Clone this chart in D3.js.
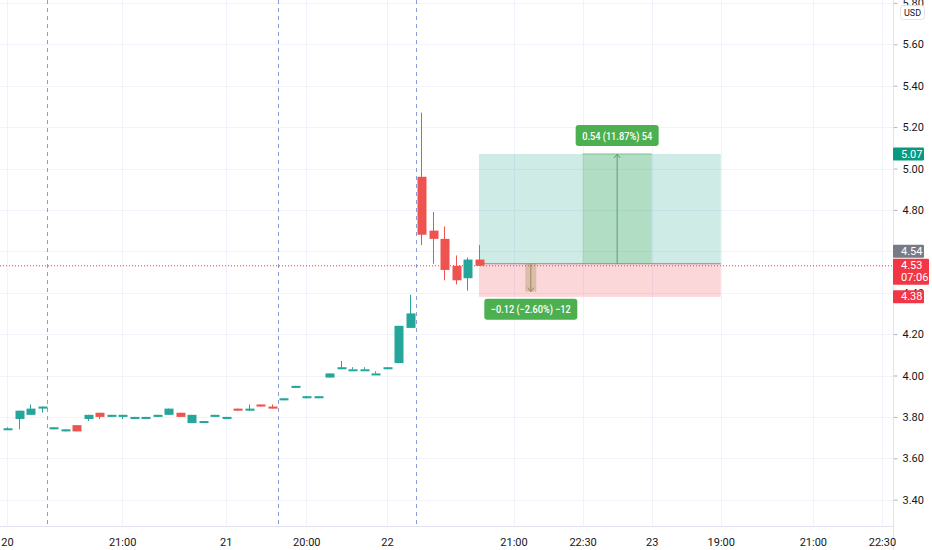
<!DOCTYPE html>
<html>
<head>
<meta charset="utf-8">
<script src="https://cdn.jsdelivr.net/npm/d3@7"></script>
<style>
  body { margin: 0; background: #fff; }
  text { font-family: Roboto, "Liberation Sans", sans-serif; }
</style>
</head>
<body>
<svg id="chart" width="932" height="550"></svg>
<script>
// candles (index = bar number)
var opens  = [3.74,3.79,3.81,3.84,3.74,3.73,3.76,3.79,3.82,3.80,3.80,3.79,3.79,3.80,3.81,3.82,3.77,3.77,3.80,3.79,3.84,3.83,3.86,3.85,
              3.88,3.94,3.89,3.89,3.99,4.03,4.03,4.03,4.01,4.03,4.06,4.23,4.96,4.70,4.66,4.53,4.47,4.56];
var highs  = [3.75,3.83,3.86,3.85,3.75,3.74,3.76,3.81,3.82,3.81,3.81,3.80,3.80,3.81,3.84,3.82,3.81,3.78,3.81,3.80,3.84,3.86,3.86,3.86,
              3.89,3.95,3.90,3.90,4.01,4.07,4.04,4.04,4.02,4.04,4.24,4.39,5.27,4.79,4.72,4.58,4.57,4.63];
var lows   = [3.74,3.74,3.81,3.82,3.74,3.73,3.73,3.78,3.79,3.80,3.79,3.79,3.79,3.80,3.81,3.80,3.77,3.77,3.80,3.79,3.83,3.83,3.85,3.84,
              3.88,3.94,3.89,3.89,3.99,4.03,4.03,4.03,4.01,4.03,4.06,4.23,4.63,4.54,4.46,4.44,4.41,4.53];
var closes = [3.745,3.83,3.84,3.85,3.75,3.74,3.73,3.81,3.80,3.81,3.81,3.80,3.80,3.81,3.84,3.80,3.81,3.78,3.81,3.80,3.83,3.84,3.85,3.84,
              3.89,3.95,3.90,3.90,4.01,4.04,4.03,4.03,4.01,4.04,4.24,4.30,4.68,4.66,4.51,4.46,4.56,4.53];

var priceTicks = [3.4,3.6,3.8,4.0,4.2,4.4,4.6,4.8,5.0,5.2,5.4,5.6,5.8];
var timeTicks  = [0,10,19,26,33,44,50,56,62,70,76];
var timeLabels = ["20","21:00","21","20:00","22","21:00","22:30","23","19:00","21:00","22:30"];
var sessionBreaks = [3.5, 23.5, 35.5];

// long position tool
var posStart = 41, posEnd = 62, posMidStart = 50, posMidEnd = 56, posArrow = 53, lossArrow = 45.5;
var entry = 4.54, target = 5.07, stop = 4.38, stopArrowEnd = 4.405;
var profitText = "0.54 (11.87%) 54";
var lossText = "\u22120.12 (\u22122.60%) \u221212";
var lastPrice = 4.53, countdown = "07:06";

var up = "#26a69a", down = "#ef5350";
var plotRight = 893, plotBottom = 526;

var svg = d3.select("#chart");
svg.append("rect").attr("width", 932).attr("height", 550).attr("fill", "#fff");

var x = d3.scaleLinear().domain([0, 41]).range([7, 479]);
var y = d3.scaleLinear().domain([5, 3.4]).range([168.5, 499.7]);

// grid
svg.append("g").selectAll("line").data(priceTicks).enter().append("line")
    .attr("x1", 0).attr("x2", plotRight)
    .attr("y1", d => Math.round(y(d)) + 0.5).attr("y2", d => Math.round(y(d)) + 0.5)
    .attr("stroke", "#f0f3fa");
svg.append("g").selectAll("line").data(timeTicks).enter().append("line")
    .attr("x1", d => Math.round(x(d)) + 0.5).attr("x2", d => Math.round(x(d)) + 0.5)
    .attr("y1", 0).attr("y2", plotBottom)
    .attr("stroke", "#f0f3fa");

// session breaks
svg.append("g").selectAll("line").data(sessionBreaks).enter().append("line")
    .attr("x1", d => Math.round(x(d)) + 0.5).attr("x2", d => Math.round(x(d)) + 0.5)
    .attr("y1", 0).attr("y2", plotBottom)
    .attr("stroke", "#8c9ad6").attr("stroke-dasharray", "4,4");

// position tool
var pos = svg.append("g");
pos.append("rect")
    .attr("x", x(posStart)).attr("width", x(posEnd) - x(posStart))
    .attr("y", y(target)).attr("height", y(entry) - y(target))
    .attr("fill", "rgba(8,153,129,0.2)");
pos.append("rect")
    .attr("x", x(posStart)).attr("width", x(posEnd) - x(posStart))
    .attr("y", y(entry)).attr("height", y(stop) - y(entry))
    .attr("fill", "rgba(242,54,69,0.2)");
pos.append("rect")
    .attr("x", x(posMidStart)).attr("width", x(posMidEnd) - x(posMidStart))
    .attr("y", y(target)).attr("height", y(entry) - y(target))
    .attr("fill", "rgba(76,175,80,0.22)");
pos.append("line")
    .attr("x1", x(posMidStart)).attr("x2", x(posMidEnd))
    .attr("y1", y(target)).attr("y2", y(target))
    .attr("stroke", "#7fbf8f");
pos.append("line")
    .attr("x1", x(posStart)).attr("x2", x(posEnd))
    .attr("y1", y(entry)).attr("y2", y(entry))
    .attr("stroke", "#8a8d96");
pos.append("line")
    .attr("x1", x(posArrow)).attr("x2", x(posArrow))
    .attr("y1", y(entry)).attr("y2", y(target))
    .attr("stroke", "#5a9e6a");
pos.append("path")
    .attr("d", "M" + (x(posArrow) - 3) + "," + (y(target) + 4) + "L" + x(posArrow) + "," + y(target) + "L" + (x(posArrow) + 3) + "," + (y(target) + 4))
    .attr("fill", "none").attr("stroke", "#5a9e6a");

// small loss arrow
pos.append("rect")
    .attr("x", x(lossArrow) - 5.5).attr("width", 11)
    .attr("y", y(entry)).attr("height", y(stopArrowEnd) - y(entry))
    .attr("fill", "rgba(160,140,80,0.35)");
pos.append("line")
    .attr("x1", x(lossArrow)).attr("x2", x(lossArrow))
    .attr("y1", y(entry)).attr("y2", y(stopArrowEnd))
    .attr("stroke", "#9a8a5e");
pos.append("path")
    .attr("d", "M" + (x(lossArrow) - 3) + "," + (y(stopArrowEnd) - 4) + "L" + x(lossArrow) + "," + y(stopArrowEnd) + "L" + (x(lossArrow) + 3) + "," + (y(stopArrowEnd) - 4))
    .attr("fill", "none").attr("stroke", "#9a8a5e");

// labels of the position
function tag(g, cx, top, txt, w) {
  g.append("rect").attr("x", cx - w / 2).attr("y", top).attr("width", w).attr("height", 21)
      .attr("rx", 3).attr("fill", "#4caf50");
  g.append("text").attr("x", cx).attr("y", top + 14.5).attr("text-anchor", "middle")
      .attr("fill", "#fff").style("font-size", "11px").style("font-weight", 500)
      .attr("textLength", w - 13).attr("lengthAdjust", "spacingAndGlyphs")
      .text(txt);
}
tag(pos, x(posArrow), y(target) - 29, profitText, 83);
tag(pos, x(lossArrow), y(stop) + 2, lossText, 93);

// last price line
svg.append("line")
    .attr("x1", 0).attr("x2", plotRight)
    .attr("y1", y(lastPrice)).attr("y2", y(lastPrice))
    .attr("stroke", "#f23645").attr("stroke-dasharray", "1,2");

// candles
var bars = d3.range(opens.length);
var candles = svg.append("g").selectAll("g").data(bars).enter().append("g");
candles.append("line")
    .attr("x1", i => Math.round(x(i)) + 0.5).attr("x2", i => Math.round(x(i)) + 0.5)
    .attr("y1", i => y(highs[i])).attr("y2", i => y(lows[i]))
    .attr("stroke", i => closes[i] >= opens[i] ? up : down);
candles.append("rect")
    .attr("x", i => Math.round(x(i)) - 3.5).attr("width", 9)
    .attr("y", i => Math.min(y(opens[i]), y(closes[i])))
    .attr("height", i => Math.max(2, Math.abs(y(opens[i]) - y(closes[i]))))
    .attr("fill", i => closes[i] >= opens[i] ? up : down);

// price axis
svg.append("rect").attr("x", plotRight).attr("y", 0).attr("width", 932 - plotRight).attr("height", 550).attr("fill", "#fff");
var yAxis = svg.append("g")
    .attr("transform", "translate(" + (plotRight + 0.5) + ",0)")
    .call(d3.axisRight(y).tickValues(priceTicks).tickFormat(d3.format(".2f")).tickSize(4).tickSizeOuter(0));
yAxis.select(".domain").remove();
yAxis.selectAll(".tick line").attr("stroke", "#b2b5be");
yAxis.selectAll(".tick text").attr("x", 9).attr("fill", "#131722").style("font-size", "11px");
svg.append("line").attr("x1", plotRight + 0.5).attr("x2", plotRight + 0.5).attr("y1", 0).attr("y2", 550).attr("stroke", "#e0e3eb");

// time axis
var xAxis = svg.append("g")
    .attr("transform", "translate(0," + (plotBottom + 0.5) + ")")
    .call(d3.axisBottom(x).tickValues(timeTicks).tickFormat((d, i) => timeLabels[i]).tickSize(0).tickSizeOuter(0));
xAxis.select(".domain").remove();
xAxis.selectAll(".tick text").attr("y", 12).attr("fill", "#131722").style("font-size", "11px");
svg.append("line").attr("x1", 0).attr("x2", plotRight).attr("y1", plotBottom + 0.5).attr("y2", plotBottom + 0.5).attr("stroke", "#e0e3eb");

// price labels on the axis
function priceBox(top, h, fill, lines) {
  svg.append("rect").attr("x", plotRight).attr("y", top).attr("width", lines.length > 1 ? 36 : 31).attr("height", h)
      .attr("rx", 1).attr("fill", fill);
  lines.forEach(function(t, k) {
    svg.append("text").attr("x", plotRight + 8).attr("y", top + 10 + k * 12.5)
        .attr("fill", "#fff").style("font-size", "11px").text(t);
  });
}
priceBox(y(target) - 6.5, 13, "#089981", [d3.format(".2f")(target)]);
priceBox(y(lastPrice) - 7, 26, "#f23645", [d3.format(".2f")(lastPrice), countdown]);
priceBox(y(lastPrice) - 21, 13, "#787b86", [d3.format(".2f")(entry)]);
priceBox(y(stop) - 6.5, 13, "#f23645", [d3.format(".2f")(stop)]);

// currency badge
svg.append("rect").attr("x", 900.5).attr("y", 5.5).attr("width", 24).attr("height", 14).attr("rx", 3)
    .attr("fill", "#fff").attr("stroke", "#e0e3eb");
svg.append("text").attr("x", 912.5).attr("y", 16).attr("text-anchor", "middle")
    .attr("fill", "#131722").style("font-size", "9px").text("USD");
</script>
</body>
</html>
